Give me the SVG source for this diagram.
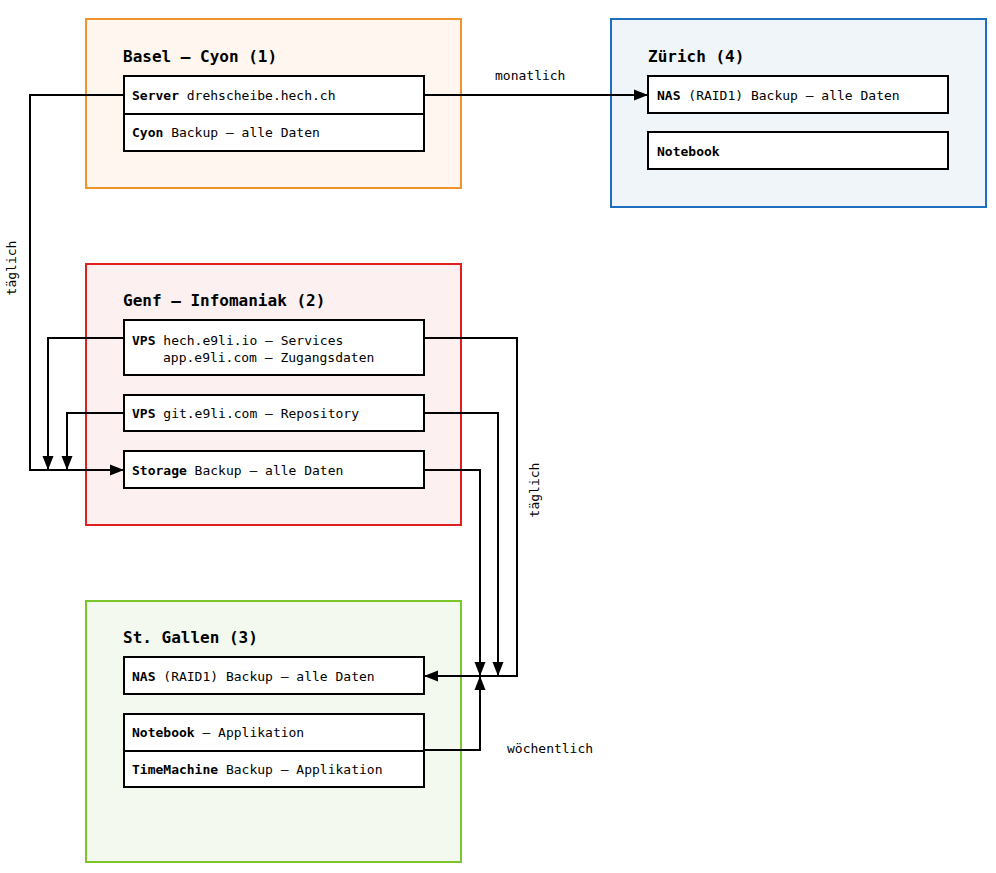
<svg xmlns="http://www.w3.org/2000/svg" width="996" height="873" viewBox="0 0 996 873">
<defs>
<marker id="a" markerWidth="14" markerHeight="12" refX="14" refY="6" orient="auto" markerUnits="userSpaceOnUse"><path d="M0,0.5 L14,6 L0,11.5 Z" fill="#000"/></marker>
<style>
text{font-family:"DejaVu Sans Mono","Liberation Mono",monospace;font-size:13px;fill:#000}
.t{font-size:16px;font-weight:bold}
.b{font-weight:bold}
.n{fill:#fff;stroke:#000;stroke-width:2}
.c{fill:none;stroke:#000;stroke-width:2;marker-end:url(#a)}
</style>
</defs>
<rect width="996" height="873" fill="#fff"/>
<g id="basel">
<rect x="86" y="19" width="375" height="169" fill="#fff7ef" stroke="#f0932b" stroke-width="2"/>
<text x="123" y="62" class="t">Basel – Cyon (1)</text>
<rect class="n" x="124" y="76" width="300" height="75"/>
<line x1="124" y1="114" x2="424" y2="114" stroke="#000" stroke-width="2"/>
<text x="132" y="100"><tspan class="b">Server</tspan> drehscheibe.hech.ch</text>
<text x="132" y="137"><tspan class="b">Cyon</tspan> Backup – alle Daten</text>
</g>
<g id="zuerich">
<rect x="611" y="19" width="375" height="188" fill="#f0f5fa" stroke="#1e6fc0" stroke-width="2"/>
<text x="648" y="62" class="t">Zürich (4)</text>
<rect class="n" x="648" y="76" width="300" height="37"/>
<text x="657" y="100"><tspan class="b">NAS</tspan> (RAID1) Backup – alle Daten</text>
<rect class="n" x="648" y="132" width="300" height="37"/>
<text x="657" y="156" class="b">Notebook</text>
</g>
<g id="genf">
<rect x="86" y="264" width="375" height="261" fill="#fdf0f0" stroke="#e02020" stroke-width="2"/>
<text x="123" y="306" class="t">Genf – Infomaniak (2)</text>
<rect class="n" x="124" y="320" width="300" height="55"/>
<text x="132" y="345"><tspan class="b">VPS</tspan> hech.e9li.io – Services</text>
<text x="163" y="362">app.e9li.com – Zugangsdaten</text>
<rect class="n" x="124" y="395" width="300" height="36"/>
<text x="132" y="418"><tspan class="b">VPS</tspan> git.e9li.com – Repository</text>
<rect class="n" x="124" y="451" width="300" height="37"/>
<text x="132" y="475"><tspan class="b">Storage</tspan> Backup – alle Daten</text>
</g>
<g id="stgallen">
<rect x="86" y="601" width="375" height="261" fill="#f4f9ef" stroke="#7cc52a" stroke-width="2"/>
<text x="123" y="643" class="t">St. Gallen (3)</text>
<rect class="n" x="124" y="657" width="300" height="37"/>
<text x="132" y="681"><tspan class="b">NAS</tspan> (RAID1) Backup – alle Daten</text>
<rect class="n" x="124" y="714" width="300" height="73"/>
<line x1="124" y1="751" x2="424" y2="751" stroke="#000" stroke-width="2"/>
<text x="132" y="737"><tspan class="b">Notebook</tspan> – Applikation</text>
<text x="132" y="774"><tspan class="b">TimeMachine</tspan> Backup – Applikation</text>
</g>
<g id="connectors">
<path class="c" d="M124,95 H30 V470 H124"/>
<path class="c" d="M424,95 H648"/>
<path class="c" d="M124,338 H48 V470"/>
<path class="c" d="M124,413 H67 V470"/>
<path class="c" d="M424,338 H517 V676 H424"/>
<path class="c" d="M424,413 H498 V676"/>
<path class="c" d="M424,470 H480 V676"/>
<path class="c" d="M424,750 H480 V676"/>
<text x="495" y="80">monatlich</text>
<text x="507" y="753">wöchentlich</text>
<text transform="translate(16,268) rotate(-90)" text-anchor="middle">täglich</text>
<text transform="translate(539,490) rotate(-90)" text-anchor="middle">täglich</text>
</g>
</svg>
